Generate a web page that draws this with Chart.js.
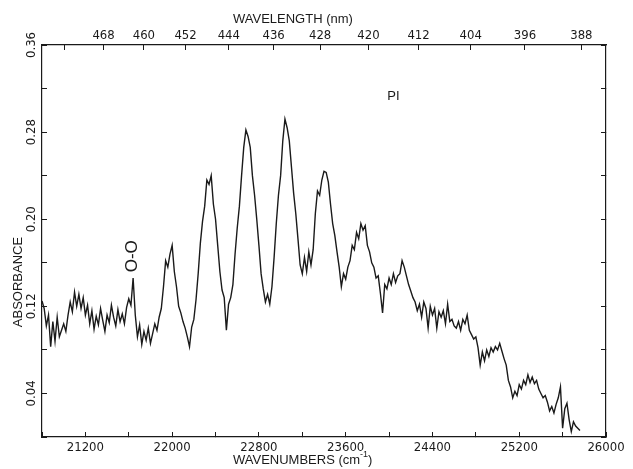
<!DOCTYPE html>
<html>
<head>
<meta charset="utf-8">
<script src="https://cdn.jsdelivr.net/npm/chart.js@4.4.0/dist/chart.umd.min.js"></script>
<style>
  html, body { margin:0; padding:0; background:#fff; }
  canvas { display:block; }
</style>
</head>
<body>
<canvas id="spectrum" width="633" height="469"></canvas>
<script>
'use strict';

/* ---- data ---- */

// wavenumber grid of the trace (cm-1), one absorbance value per step
const WN_START = 20800;
const WN_STEP  = 20;

const ABSORBANCE = [
  0.125, 0.118, 0.102, 0.112, 0.083, 0.106, 0.088, 0.110, 0.092, 0.098,
  0.104, 0.097, 0.112, 0.124, 0.115, 0.133, 0.120, 0.131, 0.118, 0.128, 0.112, 0.121,
  0.104, 0.116, 0.099, 0.111, 0.103, 0.118, 0.107, 0.097, 0.112, 0.105, 0.121, 0.110, 0.102, 0.117, 0.106, 0.113, 0.104,
  0.119, 0.127, 0.121, 0.146, 0.112,
  0.092, 0.103, 0.085, 0.097, 0.089, 0.100, 0.086, 0.095, 0.104, 0.098, 0.110,
  0.118, 0.138, 0.162, 0.156, 0.168, 0.176, 0.152, 0.138, 0.120, 0.114, 0.106, 0.100, 0.092, 0.083, 0.101, 0.108, 0.126,
  0.150, 0.178, 0.198, 0.212, 0.236, 0.232, 0.240, 0.214, 0.200, 0.176, 0.152, 0.135, 0.128,
  0.098, 0.122, 0.128, 0.140,
  0.168, 0.192, 0.212, 0.240, 0.266, 0.282, 0.276, 0.266, 0.240, 0.222, 0.200, 0.176, 0.150, 0.136, 0.124,
  0.131, 0.122, 0.138,
  0.165, 0.196, 0.222, 0.240, 0.272, 0.292, 0.284, 0.272, 0.248, 0.224, 0.205, 0.182, 0.158,
  0.150, 0.165, 0.152, 0.170, 0.158, 0.172,
  0.205, 0.226, 0.222, 0.236, 0.244, 0.243, 0.234, 0.214, 0.196, 0.185, 0.170, 0.156, 0.138, 0.150,
  0.145, 0.156, 0.162, 0.176, 0.172, 0.188, 0.182, 0.196, 0.190, 0.194, 0.176, 0.170, 0.160, 0.156, 0.146, 0.148, 0.132,
  0.114, 0.140, 0.136, 0.146, 0.140, 0.150, 0.142, 0.148, 0.150, 0.162, 0.156, 0.148, 0.140, 0.134, 0.128, 0.124, 0.116,
  0.122, 0.110, 0.124, 0.118, 0.100, 0.120, 0.112, 0.118, 0.100, 0.115, 0.110, 0.116, 0.104, 0.122, 0.106, 0.108,
  0.102, 0.100, 0.106, 0.098, 0.108, 0.104, 0.112, 0.098, 0.094, 0.090, 0.092,
  0.082, 0.066, 0.078, 0.070, 0.080, 0.074, 0.082, 0.078, 0.083, 0.080, 0.086, 0.079, 0.072, 0.066, 0.052,
  0.046, 0.036, 0.042, 0.038, 0.048, 0.044, 0.052, 0.048, 0.057, 0.050, 0.055, 0.049, 0.052, 0.044, 0.040, 0.036,
  0.038, 0.032, 0.024, 0.028, 0.022, 0.030, 0.036, 0.046, 0.008, 0.026, 0.031, 0.016, 0.005, 0.014, 0.010, 0.008, 0.006
];

// axes
const WN_MIN = 20800, WN_MAX = 26000, WN_TICK = 400;
const WN_LABELS  = [21200, 22000, 22800, 23600, 24400, 25200, 26000];
const ABS_MIN = 0, ABS_MAX = 0.36, ABS_TICK = 0.04;
const ABS_LABELS = ['0.04', '0.12', '0.20', '0.28', '0.36'];
const NM_TICKS   = [476, 468, 460, 452, 444, 436, 428, 420, 412, 404, 396, 388];
const NM_LABELS  = [468, 460, 452, 444, 436, 428, 420, 412, 404, 396, 388];

// text written on the plot
const NOTES = [
  { text: 'PI',  wn: 24040, abs: 0.313, turn: false },
  { text: 'O-O', wn: 21630, abs: 0.166, turn: true }
];

/* ---- drawing ---- */

const INK        = '#1a1a1a';
const TICK_FONT  = '"Liberation Sans Narrow", "DejaVu Sans Condensed", "Liberation Sans", sans-serif';
const TITLE_FONT = '13px "Liberation Sans", "DejaVu Sans", sans-serif';

const points = ABSORBANCE.map((a, i) => ({ x: WN_START + i * WN_STEP, y: a }));

function frameAxis(extra) {
  return Object.assign({
    grid:   { drawOnChartArea: false, drawTicks: true, tickLength: -5, color: INK, lineWidth: 1 },
    border: { display: true, color: INK, width: 1.2 },
  }, extra);
}

const plotText = {
  id: 'plotText',
  afterDraw(chart) {
    const { ctx, scales } = chart;
    ctx.save();
    ctx.fillStyle = INK;
    ctx.textBaseline = 'middle';

    // axis titles
    ctx.font = TITLE_FONT;
    ctx.textAlign = 'left';
    ctx.fillText('WAVELENGTH (nm)', 233, 19);

    const head = 'WAVENUMBERS (cm';
    let x = 233;
    ctx.fillText(head, x, 460);
    x += ctx.measureText(head).width;
    ctx.font = '9px "Liberation Sans", sans-serif';
    ctx.fillText('-1', x, 455);
    x += ctx.measureText('-1').width;
    ctx.font = TITLE_FONT;
    ctx.fillText(')', x, 460);

    ctx.save();
    ctx.translate(18, 282);
    ctx.rotate(-Math.PI / 2);
    ctx.textAlign = 'center';
    ctx.fillText('ABSORBANCE', 0, 0);
    ctx.restore();

    // labels on the plot
    NOTES.forEach(n => {
      const px = scales.x.getPixelForValue(n.wn);
      const py = scales.y.getPixelForValue(n.abs);
      ctx.save();
      ctx.translate(px, py);
      ctx.textAlign = 'center';
      if (n.turn) {
        ctx.rotate(-Math.PI / 2);
        ctx.font = '17px "Liberation Sans", sans-serif';
      } else {
        ctx.font = '13px "Liberation Sans", sans-serif';
      }
      ctx.fillText(n.text, 0, 0);
      ctx.restore();
    });
    ctx.restore();
  }
};

new Chart(document.getElementById('spectrum'), {
  type: 'line',
  data: {
    datasets: [{
      data: points,
      xAxisID: 'x',
      yAxisID: 'y',
      borderColor: INK,
      borderWidth: 1.4,
      pointRadius: 0,
      tension: 0,
      fill: false
    }]
  },
  options: {
    responsive: false,
    animation: false,
    devicePixelRatio: 1,
    layout: { padding: 0 },
    plugins: { legend: { display: false }, tooltip: { enabled: false } },
    scales: {
      x: frameAxis({
        type: 'linear', position: 'bottom', min: WN_MIN, max: WN_MAX,
        afterFit: s => { s.height = 32; },
        ticks: {
          stepSize: WN_TICK, autoSkip: false, maxRotation: 0, padding: 8,
          color: INK, font: { family: TICK_FONT, size: 13 },
          callback: v => WN_LABELS.includes(v) ? String(v) : ''
        }
      }),
      x2: frameAxis({
        type: 'linear', position: 'top', min: WN_MIN, max: WN_MAX,
        afterFit: s => { s.height = 45; },
        afterBuildTicks: s => { s.ticks = NM_TICKS.map(nm => ({ value: 1e7 / nm })); },
        ticks: {
          autoSkip: false, maxRotation: 0, padding: 7,
          color: INK, font: { family: TICK_FONT, size: 13 },
          callback: v => {
            const nm = Math.round(1e7 / v);
            return NM_LABELS.includes(nm) ? String(nm) : '';
          }
        }
      }),
      y: frameAxis({
        type: 'linear', position: 'left', min: ABS_MIN, max: ABS_MAX,
        afterFit: s => { s.width = 42; },
        ticks: {
          stepSize: ABS_TICK, autoSkip: false, minRotation: 90, maxRotation: 90,
          crossAlign: 'center', padding: 2,
          color: INK, font: { family: TICK_FONT, size: 13 },
          callback: v => {
            const t = v.toFixed(2);
            return ABS_LABELS.includes(t) ? t : '';
          }
        }
      }),
      y2: frameAxis({
        type: 'linear', position: 'right', min: ABS_MIN, max: ABS_MAX,
        afterFit: s => { s.width = 27; },
        ticks: { stepSize: ABS_TICK, display: false }
      })
    }
  },
  plugins: [plotText]
});
</script>
</body>
</html>
